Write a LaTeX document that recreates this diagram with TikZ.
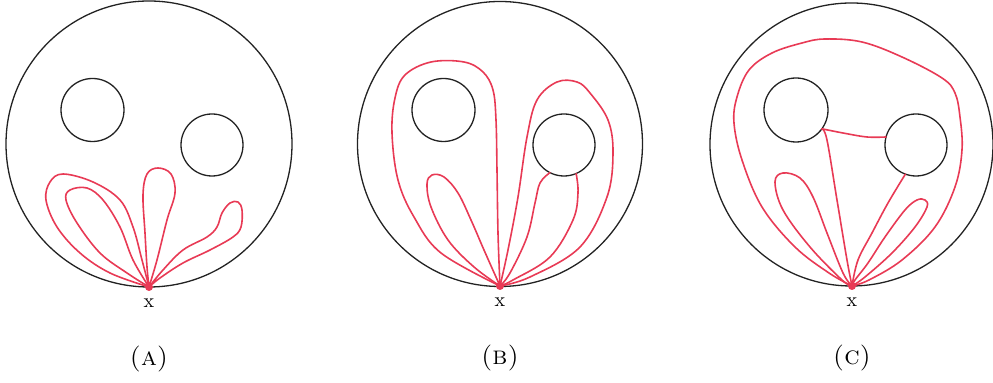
\documentclass[tikz,border=0pt]{standalone}
\begin{document}
\begin{tikzpicture}[x=0.5pt,y=-0.5pt]
\definecolor{color0}{HTML}{222222}
\definecolor{color1}{HTML}{E83A55}
\tikzset{
  disk/.style={draw=color0,circle,inner sep=0pt,outer sep=0pt,line width=0.65pt},
  strand/.style={color1,line width=0.8pt,line cap=round,line join=round},
  basedot/.style={fill=color1,circle,inner sep=0pt,minimum size=4pt},
  ptlabel/.style={font=\fontsize{10}{12}\selectfont},
  caption/.style={font=\fontsize{13}{15}\selectfont\scshape},
}
\useasboundingbox (0,0) rectangle (993,383);
% panel A
\node[disk,minimum size=143pt] (diskA) at (149,144) {};
\node[disk,minimum size=31.5pt] (holeA1) at (92.5,110) {};
\node[disk,minimum size=31pt] (holeA2) at (212,145) {};
\coordinate (xA) at (149,287);
\draw[strand] plot[smooth,tension=0.6] coordinates {(xA) (110,273) (80,253) (57,227) (46,200) (50,182) (63,174) (93,182) (120,200) (133,227) (142,260) (xA)};
\draw[strand] plot[smooth,tension=0.6] coordinates {(xA) (127,273) (100,253) (77,223) (66,200) (70,190) (87,188) (103,200) (120,227) (133,260) (xA)};
\draw[strand] plot[smooth,tension=0.6] coordinates {(xA) (147,267) (145,233) (143,195) (147,174) (158,168) (171,174) (175,193) (167,220) (157,260) (xA)};
\draw[strand] plot[smooth,tension=0.6] coordinates {(xA) (163,270) (183,250) (207,237) (217,227) (222,213) (230,203) (238,202) (242,210) (241,227) (233,237) (210,250) (183,263) (160,278) (xA)};
% panel B
\node[disk,minimum size=142.5pt] (diskB) at (500,144) {};
\node[disk,minimum size=31.5pt] (holeB1) at (443.5,110) {};
\node[disk,minimum size=31pt] (holeB2) at (564,145) {};
\coordinate (xB) at (500,286);
\draw[strand] plot[smooth,tension=0.6] coordinates {(xB) (441,253) (414,217) (398,180) (392,133) (395,98) (405,75) (431,62) (464,62) (483,72) (493,90) (496,120) (497,170) (498,233) (xB)};
\draw[strand] plot[smooth,tension=0.6] coordinates {(xB) (474,267) (448,240) (431,207) (427,184) (432,175) (444,177) (458,193) (471,220) (484,250) (xB)};
\draw[strand] plot[smooth,tension=0.6] coordinates {(xB) (508,250) (518,197) (527,137) (537,100) (557,82) (577,82) (590,93) (608,120) (613,153) (607,197) (580,247) (530,277) (xB)};
\draw[strand] plot[smooth,tension=0.6] coordinates {(holeB2.243) (540,183) (535,203) (527,237) (510,273) (xB)};
\draw[strand] plot[smooth,tension=0.6] coordinates {(holeB2.293) (578,193) (573,220) (550,257) (513,280) (xB)};
% panel C
\node[disk,minimum size=141.5pt] (diskC) at (851.5,144.5) {};
\node[disk,minimum size=32pt] (holeC1) at (796,110) {};
\node[disk,minimum size=31pt] (holeC2) at (916,145) {};
\coordinate (xC) at (852,286);
\draw[strand] plot[smooth,tension=0.6] coordinates {(xC) (829,273) (795,247) (762,207) (742,160) (734,123) (737,97) (749,70) (772,53) (802,43) (825,39) (862,42) (902,57) (942,78) (955,93) (960,117) (962,150) (955,187) (935,227) (902,260) (869,280) (xC)};
\draw[strand] plot[smooth,tension=0.6] coordinates {(holeC1.-36) (843,133) (867,137) (holeC2.165)};
\draw[strand] plot[smooth,tension=0.6] coordinates {(holeC1.-36) (827,140) (837,200) (847,260) (xC)};
\draw[strand] plot[smooth,tension=0.6] coordinates {(holeC2.250) (888,203) (872,233) (858,260) (xC)};
\draw[strand] plot[smooth,tension=0.6] coordinates {(xC) (855,280) (868,263) (885,237) (905,210) (917,200) (925,200) (927,207) (915,227) (892,253) (865,277) (xC)};
\draw[strand] plot[smooth,tension=0.6] coordinates {(xC) (842,280) (810,247) (783,210) (775,182) (783,173) (800,178) (813,197) (827,233) (843,273) (xC)};
% base points and labels
\foreach \p in {A,B,C}{
  \node[basedot] (dot\p) at (x\p) {};
  \node[ptlabel,anchor=center] (lab\p) at ([yshift=-8pt]x\p) {x};
  \node[caption,anchor=center] (cap\p) at ([yshift=-36pt]x\p) {(\MakeLowercase{\p})};
}
\end{tikzpicture}
\end{document}
